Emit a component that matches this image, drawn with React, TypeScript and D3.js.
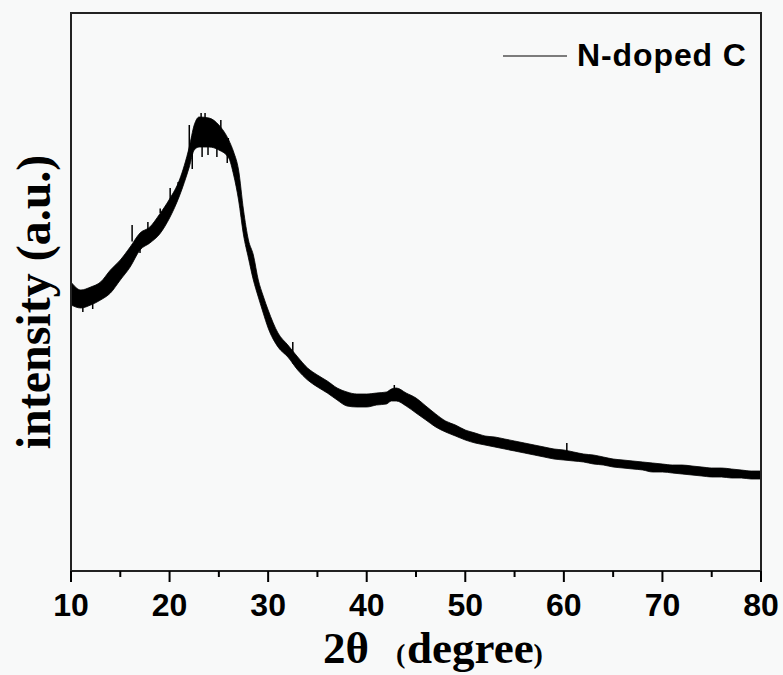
import React from "react";
import * as d3 from "d3";

// 2θ positions (degree) where the band of the XRD trace was read
const twoTheta = [10, 11, 12, 13, 14, 15, 16, 17, 18, 19, 20, 21, 22, 22.5, 23, 24, 25, 26, 26.5, 27, 27.5, 28, 28.5, 29, 29.5, 30, 31, 32, 33, 34, 35, 36, 37, 38, 39, 40, 41, 42, 42.5, 43, 44, 45, 46, 47, 48, 49, 50, 51, 52, 53, 54, 55, 56, 57, 58, 59, 60, 61, 62, 63, 64, 65, 66, 67, 68, 69, 70, 71, 72, 73, 74, 75, 76, 77, 78, 79, 80];
// upper edge of the noisy trace (a.u.)
const intensityHigh = [289, 281, 284, 289, 301, 311, 324, 338, 344, 357, 372, 391, 424, 446, 454, 453, 446, 431, 419, 401, 361, 331, 316, 291, 275, 261, 238, 226, 214, 203, 196, 190, 183, 179, 177, 177, 178, 179, 182, 183, 178, 173, 165, 157, 150, 146, 141, 138, 135, 134, 132, 130, 128, 126, 124, 122, 121, 119, 117, 116, 114, 112, 111, 110, 109, 108, 107, 106, 106, 105, 104, 103, 103, 102, 101, 100, 100];
// lower edge of the noisy trace (a.u.)
const intensityLow = [266, 263, 266, 271, 278, 291, 304, 321, 328, 337, 353, 375, 404, 421, 424, 424, 421, 413, 396, 371, 336, 313, 291, 274, 258, 243, 224, 214, 201, 191, 184, 178, 171, 165, 164, 164, 166, 167, 170, 170, 165, 158, 151, 144, 139, 135, 131, 128, 126, 124, 122, 120, 118, 116, 114, 112, 111, 110, 109, 107, 106, 104, 103, 102, 101, 99, 99, 98, 97, 96, 95, 94, 94, 93, 93, 92, 92];
// isolated noise spikes visible above the band: [2θ, peak intensity]
const spikeUpTheta = [16.2, 17.8, 19.05, 20.06, 20.87, 22.0, 23.2, 23.6, 24.3, 25.2, 25.96, 32.5, 42.8, 60.3];
const spikeUpTop = [346, 349, 358, 371, 389, 446, 458, 458, 451, 451, 433, 229, 186, 128];
// noise spikes visible below the band: [2θ, lowest intensity]
const spikeDownTheta = [11.2, 12.2, 17.0, 22.3, 23.3, 23.9, 24.8, 25.85];
const spikeDownBottom = [259, 262, 318, 402, 414, 416, 414, 408];

const xTicks = [10, 20, 30, 40, 50, 60, 70, 80];
const xMinorTicks = [15, 25, 35, 45, 55, 65, 75];
const seriesName = "N-doped C";

export default function App() {
  const W = 783, H = 675;
  const left = 71, right = 761, top = 13, bottom = 571;
  const x = d3.scaleLinear().domain([10, 80]).range([left, right]);
  const y = d3.scaleLinear().domain([0, 558]).range([bottom, top]);

  type Row = { t: number; hi: number; lo: number };
  const rows: Row[] = twoTheta.map((t, i) => ({ t, hi: intensityHigh[i], lo: intensityLow[i] }));
  const area = d3
    .area<Row>()
    .x((d) => x(d.t))
    .y0((d) => y(d.lo))
    .y1((d) => y(d.hi))
    .curve(d3.curveMonotoneX);

  const midAt = (t: number) => {
    const i = d3.bisectLeft(twoTheta, t);
    const j = Math.min(twoTheta.length - 1, Math.max(0, i));
    return (intensityHigh[j] + intensityLow[j]) / 2;
  };

  return (
    <svg width={W} height={H} style={{ position: "absolute", left: 0, top: 0 }}>
      <rect x={0} y={0} width={W} height={H} fill="#f8f9f9" />
      <path d={area(rows) || ""} fill="#000" stroke="#000" strokeWidth={0.8} strokeLinejoin="round" />
      {spikeUpTheta.map((t, i) => (
        <line key={"u" + i} x1={x(t)} x2={x(t)} y1={y(midAt(t))} y2={y(spikeUpTop[i])} stroke="#000" strokeWidth={1.5} />
      ))}
      {spikeDownTheta.map((t, i) => (
        <line key={"d" + i} x1={x(t)} x2={x(t)} y1={y(midAt(t))} y2={y(spikeDownBottom[i])} stroke="#000" strokeWidth={1.5} />
      ))}
      {/* frame */}
      <rect x={left} y={top} width={right - left} height={bottom - top} fill="none" stroke="#222" strokeWidth={2} />
      {/* ticks */}
      {xTicks.map((t) => (
        <g key={t}>
          <line x1={x(t)} x2={x(t)} y1={bottom} y2={bottom + 11} stroke="#000" strokeWidth={2} />
          <text x={x(t)} y={616} textAnchor="middle" fontFamily="'Liberation Sans', Arial, sans-serif" fontWeight="bold" fontSize={32} fill="#000">
            {t}
          </text>
        </g>
      ))}
      {xMinorTicks.map((t) => (
        <line key={t} x1={x(t)} x2={x(t)} y1={bottom} y2={bottom + 6} stroke="#000" strokeWidth={2} />
      ))}
      {/* x title */}
      <text y={663} fontFamily="'Liberation Serif', 'Times New Roman', serif" fontWeight="bold" fill="#000">
        <tspan x={323} fontSize={45}>2θ</tspan>
        <tspan x={396} fontSize={28}>(</tspan>
        <tspan x={407} fontSize={45}>degree</tspan>
        <tspan fontSize={28}>)</tspan>
      </text>
      {/* y title */}
      <text
        transform="translate(50,302) rotate(-90)"
        textAnchor="middle"
        fontFamily="'Liberation Serif', 'Times New Roman', serif"
        fontWeight="bold"
        fontSize={48}
        fill="#000"
      >
        intensity (a.u.)
      </text>
      {/* legend */}
      <line x1={503} x2={567} y1={56} y2={56} stroke="#000" strokeWidth={1.2} />
      <text x={577} y={66} fontFamily="'Liberation Sans', Arial, sans-serif" fontWeight="bold" fontSize={32} letterSpacing={0.9} fill="#000">
        {seriesName}
      </text>
    </svg>
  );
}
